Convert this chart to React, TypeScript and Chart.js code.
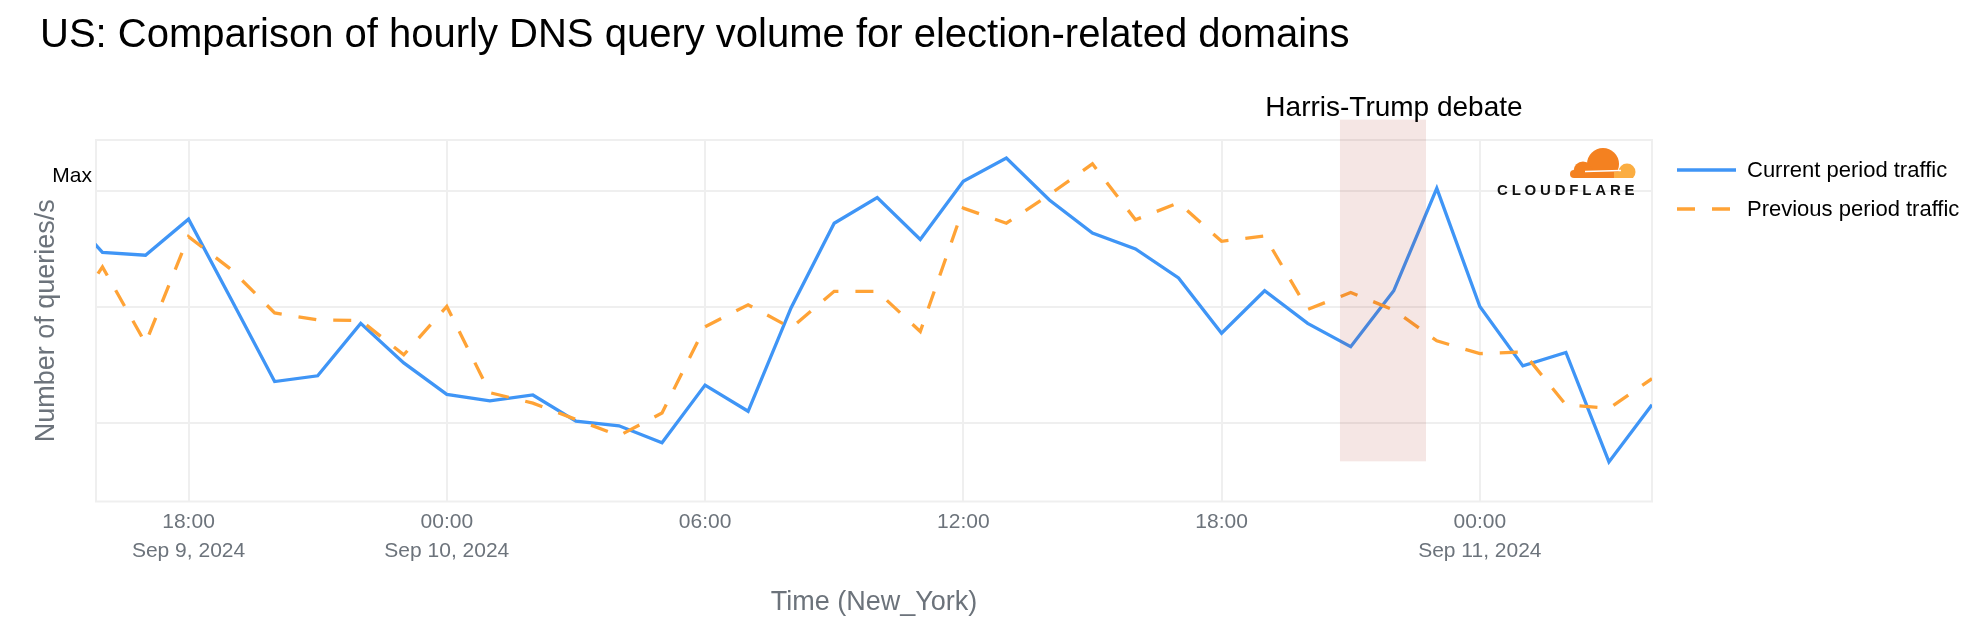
import React, { useEffect, useRef } from 'react';
import { Chart, registerables } from 'chart.js';

Chart.register(...registerables);

// Hours counted from Sep 9, 2024 00:00 (New York time)
const hours = [15, 16, 17, 18, 19, 20, 21, 22, 23, 24, 25, 26, 27, 28, 29, 30, 31, 32, 33, 34, 35, 36, 37, 38, 39, 40, 41, 42, 43, 44, 45, 46, 47, 48, 49, 50, 51, 52];

const currentTraffic = [57.6, 49.4, 48.9, 55.1, 41.2, 27.2, 28.2, 37.2, 30.4, 25.0, 23.9, 24.9, 20.4, 19.6, 16.7, 26.6, 22.1, 39.9, 54.4, 58.8, 51.6, 61.6, 65.6, 58.4, 52.7, 50.0, 45.0, 35.5, 42.8, 37.2, 33.2, 42.8, 60.4, 40.1, 29.9, 32.2, 13.4, 23.2];

const previousTraffic = [35.7, 46.9, 33.8, 52.1, 46.4, 39.0, 37.8, 37.7, 31.8, 40.1, 25.3, 23.5, 20.7, 17.9, 21.8, 36.6, 40.4, 36.4, 42.7, 42.7, 35.8, 57.0, 54.4, 59.3, 64.6, 55.0, 57.9, 51.3, 52.2, 39.6, 42.5, 39.5, 34.2, 32.0, 32.3, 23.2, 22.6, 27.7];

const tickHours = [18, 24, 30, 36, 42, 48];
const tickTimes = ['18:00', '00:00', '06:00', '12:00', '18:00', '00:00'];
const tickDates = ['Sep 9, 2024', 'Sep 10, 2024', '', '', '', 'Sep 11, 2024'];

const yGridValues = [20, 40, 60];
const yMaxTick = 62.5;
const xMin = 15.85;
const xMax = 52;
const yMin = 6.6;
const yMax = 68.7;

const debateStart = 44.75;
const debateEnd = 46.75;
const debateLow = 13.5;
const debateHigh = 72.2;

const titleText = 'US: Comparison of hourly DNS query volume for election-related domains';
const debateLabel = 'Harris-Trump debate';
const seriesNames = ['Current period traffic', 'Previous period traffic'];

const FONT = '"Liberation Sans", Arial, Helvetica, sans-serif';
const BLUE = '#3f95f6';
const ORANGE = '#ffa336';
const GRID = '#efefef';
const GRAY = '#6c737b';

const overlayPlugin = {
  id: 'overlayPlugin',
  beforeDatasetsDraw(chart: any) {
    const { ctx, chartArea: a } = chart;
    ctx.save();
    ctx.strokeStyle = GRID;
    ctx.lineWidth = 2;
    ctx.strokeRect(a.left, a.top, a.right - a.left, a.bottom - a.top);
    ctx.restore();
  },
  afterDatasetsDraw(chart: any) {
    const { ctx } = chart;
    const xs = chart.scales.x;
    const ys = chart.scales.y;
    const x0 = xs.getPixelForValue(debateStart);
    const x1 = xs.getPixelForValue(debateEnd);
    const yTop = ys.getPixelForValue(debateHigh);
    const yBot = ys.getPixelForValue(debateLow);
    ctx.save();
    ctx.fillStyle = 'rgba(168, 30, 8, 0.11)';
    ctx.fillRect(x0, yTop, x1 - x0, yBot - yTop);
    ctx.fillStyle = '#000';
    ctx.font = `28px ${FONT}`;
    ctx.textAlign = 'center';
    ctx.textBaseline = 'alphabetic';
    ctx.fillText(debateLabel, (x0 + x1) / 2 + 11, 116);
    ctx.restore();
  },
  afterDraw(chart: any) {
    const { ctx } = chart;
    ctx.save();
    // Title
    ctx.fillStyle = '#000';
    ctx.font = `40px ${FONT}`;
    ctx.textAlign = 'left';
    ctx.textBaseline = 'alphabetic';
    ctx.fillText(titleText, 40, 47);

    // Legend
    const lx0 = 1677;
    const lx1 = 1736;
    const rows = [170, 209];
    ctx.lineWidth = 3.5;
    ctx.strokeStyle = BLUE;
    ctx.beginPath();
    ctx.moveTo(lx0, rows[0]);
    ctx.lineTo(lx1, rows[0]);
    ctx.stroke();
    ctx.strokeStyle = ORANGE;
    ctx.setLineDash([18, 17]);
    ctx.beginPath();
    ctx.moveTo(lx0, rows[1]);
    ctx.lineTo(lx1 + 2, rows[1]);
    ctx.stroke();
    ctx.setLineDash([]);
    ctx.fillStyle = '#000';
    ctx.font = `22px ${FONT}`;
    ctx.textBaseline = 'middle';
    ctx.fillText(seriesNames[0], 1747, rows[0] + 1);
    ctx.fillText(seriesNames[1], 1747, rows[1] + 1);

    // Cloudflare logo
    ctx.save();
    ctx.beginPath();
    ctx.rect(1560, 140, 90, 38);
    ctx.clip();
    ctx.fillStyle = '#f48120';
    ctx.beginPath();
    ctx.arc(1603, 164, 16, 0, Math.PI * 2);
    ctx.fill();
    ctx.beginPath();
    ctx.arc(1583, 171, 9.5, 0, Math.PI * 2);
    ctx.fill();
    ctx.fillRect(1574, 170, 51, 8);
    ctx.beginPath();
    ctx.arc(1574, 174, 4, 0, Math.PI * 2);
    ctx.fill();
    ctx.fillStyle = '#fbad41';
    ctx.beginPath();
    ctx.arc(1627, 172, 8.5, 0, Math.PI * 2);
    ctx.fill();
    ctx.fillRect(1614, 172, 14, 6);
    ctx.strokeStyle = '#fff';
    ctx.lineWidth = 1.5;
    ctx.beginPath();
    ctx.moveTo(1585, 171.5);
    ctx.lineTo(1621, 170.5);
    ctx.stroke();
    ctx.restore();

    ctx.fillStyle = '#111';
    ctx.font = `bold 15px ${FONT}`;
    ctx.textBaseline = 'alphabetic';
    ctx.textAlign = 'left';
    (ctx as any).letterSpacing = '3.8px';
    ctx.fillText('CLOUDFLARE', 1497, 194.5);
    (ctx as any).letterSpacing = '0px';
    ctx.restore();
  },
};

export default function App() {
  const canvasRef = useRef<HTMLCanvasElement>(null);

  useEffect(() => {
    if (!canvasRef.current) return;
    Chart.defaults.font.family = FONT;
    const chart = new Chart(canvasRef.current, {
      type: 'line',
      data: {
        datasets: [
          {
            label: seriesNames[0],
            data: hours.map((h, i) => ({ x: h, y: currentTraffic[i] })),
            borderColor: BLUE,
            borderWidth: 3.3,
            pointRadius: 0,
            tension: 0,
            fill: false,
            order: 2,
          },
          {
            label: seriesNames[1],
            data: hours.map((h, i) => ({ x: h, y: previousTraffic[i] })),
            borderColor: ORANGE,
            borderWidth: 3.3,
            borderDash: [18, 17],
            pointRadius: 0,
            tension: 0,
            fill: false,
            order: 1,
          },
        ],
      },
      options: {
        responsive: false,
        animation: false,
        events: [],
        layout: { padding: { left: 0, top: 140, right: 320, bottom: 0 } },
        plugins: {
          legend: { display: false },
          tooltip: { enabled: false },
          title: { display: false },
        },
        scales: {
          x: {
            type: 'linear',
            min: xMin,
            max: xMax,
            afterBuildTicks: (s: any) => {
              s.ticks = tickHours.map((v) => ({ value: v }));
            },
            afterFit: (s: any) => {
              s.height = 130.5;
            },
            grid: { color: GRID, lineWidth: 2, drawTicks: false },
            border: { display: false },
            ticks: {
              autoSkip: false,
              maxRotation: 0,
              padding: 7,
              color: GRAY,
              font: { size: 21, lineHeight: 1.35 },
              callback: (value: any) => {
                const i = tickHours.indexOf(Number(value));
                if (i < 0) return '';
                return tickDates[i] ? [tickTimes[i], tickDates[i]] : tickTimes[i];
              },
            },
            title: {
              display: true,
              text: 'Time (New_York)',
              color: GRAY,
              font: { size: 27, lineHeight: 1.2 },
              padding: { top: 0, bottom: 13 },
            },
          },
          y: {
            type: 'linear',
            min: yMin,
            max: yMax,
            afterBuildTicks: (s: any) => {
              s.ticks = [...yGridValues, yMaxTick].map((v) => ({ value: v }));
            },
            afterFit: (s: any) => {
              s.width = 96;
            },
            grid: {
              color: (c: any) => (c.tick && c.tick.value === yMaxTick ? 'rgba(0,0,0,0)' : GRID),
              lineWidth: 2,
              drawTicks: false,
            },
            border: { display: false },
            ticks: {
              padding: 4,
              color: '#000',
              font: { size: 21 },
              callback: (value: any) => (Number(value) === yMaxTick ? 'Max' : ''),
            },
            title: {
              display: true,
              text: 'Number of queries/s',
              color: GRAY,
              font: { size: 27, lineHeight: 1.2 },
              padding: { top: 30, bottom: 0 },
            },
          },
        },
      },
      plugins: [overlayPlugin],
    } as any);
    return () => chart.destroy();
  }, []);

  return (
    <div style={{ position: 'absolute', left: 0, top: 0, width: 1972, height: 632, background: '#fff' }}>
      <canvas ref={canvasRef} width={1972} height={632} style={{ display: 'block' }} />
    </div>
  );
}
